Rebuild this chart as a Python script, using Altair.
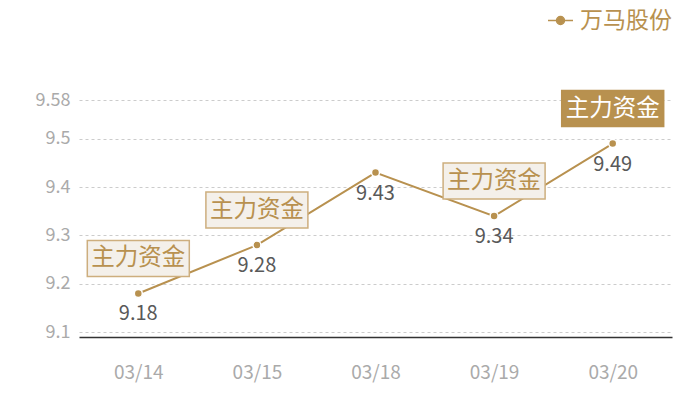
import altair as alt
import pandas as pd

# ---- data ----
dates = ["03/14", "03/15", "03/18", "03/19", "03/20"]
prices = [9.18, 9.28, 9.43, 9.34, 9.49]
series_name = "万马股份"

box_dates = ["03/14", "03/15", "03/19", "03/20"]
box_prices = [9.18, 9.28, 9.34, 9.49]
box_kinds = ["light", "light", "light", "dark"]
box_text = "主力资金"

y_ticks = [9.1, 9.2, 9.3, 9.4, 9.5, 9.58]

GOLD = "#b8914f"
LIGHT_FILL = "#f4f0ea"
LIGHT_STROKE = "#cdae7e"
FONT = "Noto Sans CJK SC"

df = pd.DataFrame({"date": dates, "price": prices, "name": [series_name] * len(dates)})
bdf = pd.DataFrame({"date": box_dates, "price": box_prices, "kind": box_kinds,
                    "label": [box_text] * len(box_dates)})

x_enc = alt.X("date:N", sort=dates, scale=alt.Scale(paddingInner=0, paddingOuter=0),
              axis=alt.Axis(title=None, labelAngle=0, ticks=False, domain=True,
                            domainColor="#333333", domainWidth=1.5, grid=False,
                            labelColor="#aaaaaa", labelFontSize=19, labelFont=FONT,
                            labelPadding=26))
y_scale = alt.Scale(domain=[9.09, 9.58], nice=False, zero=False)
y_enc = alt.Y("price:Q", scale=y_scale,
              axis=alt.Axis(title=None, values=y_ticks, domain=False, ticks=False,
                            grid=True, gridColor="#cccccc", gridDash=[3, 3], gridWidth=1,
                            labelColor="#aaaaaa", labelFontSize=18, labelFont=FONT,
                            labelPadding=9, labelExpr="datum.value == 9.58 ? '9.58' : format(datum.value, '.1f')"))

legend_path = "M-1,0H1M-0.32,0A0.32,0.32,0,1,1,0.32,0A0.32,0.32,0,1,1,-0.32,0Z"

color_enc = alt.Color("name:N", scale=alt.Scale(range=[GOLD]),
                      legend=alt.Legend(title=None, orient="none", legendX=468, legendY=-93,
                                        symbolType=legend_path, symbolSize=625,
                                        symbolStrokeWidth=1.5, symbolFillColor=GOLD,
                                        symbolStrokeColor=GOLD, labelLimit=0,
                                        labelFontSize=23, labelFont=FONT, labelColor=GOLD,
                                        labelOffset=6, padding=0))

base = alt.Chart(df)
line = base.mark_line(strokeWidth=2).encode(x=x_enc, y=y_enc, color=color_enc)
pts = base.mark_point(filled=True, size=64, opacity=1, stroke="white", strokeWidth=1.5).encode(
    x=alt.X("date:N", sort=dates), y="price:Q",
    fill=alt.Fill("name:N", scale=alt.Scale(range=[GOLD]), legend=None))
vals = base.mark_text(fontSize=20, font=FONT, color="#595959", baseline="middle", dy=21).encode(
    x=alt.X("date:N", sort=dates), y="price:Q", text=alt.Text("price:Q", format=".2f"))

box_path = "M-1,-0.353H1V0.353H-1Z"
boxes = alt.Chart(bdf).mark_point(shape=box_path, size=10404, filled=True, opacity=1,
                                  strokeWidth=1.5, yOffset=-35).encode(
    x=alt.X("date:N", sort=dates), y="price:Q",
    fill=alt.Fill("kind:N", scale=alt.Scale(domain=["light", "dark"], range=[LIGHT_FILL, GOLD]), legend=None),
    stroke=alt.Stroke("kind:N", scale=alt.Scale(domain=["light", "dark"], range=[LIGHT_STROKE, GOLD]), legend=None))
box_txt = alt.Chart(bdf).mark_text(fontSize=23.5, font=FONT, baseline="middle", dy=-35).encode(
    x=alt.X("date:N", sort=dates), y="price:Q", text="label:N",
    color=alt.Color("kind:N", scale=alt.Scale(domain=["light", "dark"], range=[GOLD, "#ffffff"]), legend=None))

chart = alt.layer(line, pts, vals, boxes, box_txt).resolve_scale(
    color="independent", fill="independent"
).properties(
    width=593, height=237,
    background="white",
    autosize=alt.AutoSizeParams(type="none"),
    padding={"left": 71, "top": 92, "right": 20, "bottom": 55},
).configure_view(strokeWidth=0, stroke="transparent")

chart.save("out.html", embed_options={"renderer": "svg", "actions": False})
